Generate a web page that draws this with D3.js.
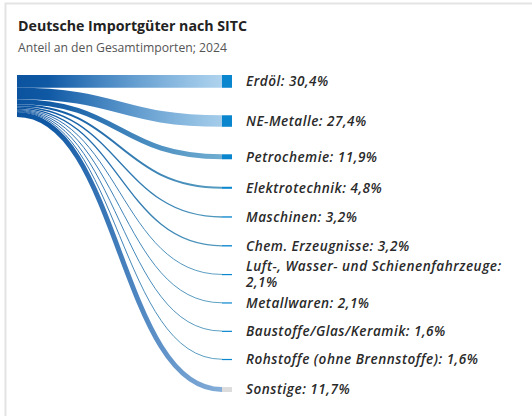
<!DOCTYPE html>
<html>
<head>
<meta charset="utf-8">
<script src="https://cdn.jsdelivr.net/npm/d3@7"></script>
<style>
  html, body { margin: 0; padding: 0; background: #fff; }
  svg { display: block; font-family: "Open Sans", "Noto Sans", sans-serif; }
  .title { font-size: 14.2px; font-weight: 700; fill: #222; }
  .subtitle { font-size: 12.2px; fill: #555; }
  .label { font-size: 13.6px; font-style: italic; font-weight: 600; fill: #2a2a2a; letter-spacing: 0.5px; }
</style>
</head>
<body>
<div id="chart"></div>
<script>
const categories = [
  "Erdöl", "NE-Metalle", "Petrochemie", "Elektrotechnik", "Maschinen",
  "Chem. Erzeugnisse", "Luft-, Wasser- und Schienenfahrzeuge", "Metallwaren",
  "Baustoffe/Glas/Keramik", "Rohstoffe (ohne Brennstoffe)", "Sonstige"
];
const shares = [30.4, 27.4, 11.9, 4.8, 3.2, 3.2, 2.1, 2.1, 1.6, 1.6, 11.7];
const valueLabels = ["30,4%", "27,4%", "11,9%", "4,8%", "3,2%", "3,2%", "2,1%", "2,1%", "1,6%", "1,6%", "11,7%"];

const width = 532, height = 416;
const srcX = 17, tgtX = 222, nodeW = 10, labelX = 246;
const yTop = 75, yBottom = 392, nodePad = 27.5;

const svg = d3.select("#chart").append("svg")
  .attr("width", width)
  .attr("height", height);

// frame
svg.append("path")
  .attr("d", "M5.5," + height + "V3.5H" + width)
  .attr("fill", "none")
  .attr("stroke", "#e3e3e3")
  .attr("stroke-width", 2);

svg.append("text").attr("class", "title").attr("x", 18).attr("y", 31)
  .text("Deutsche Importgüter nach SITC");
svg.append("text").attr("class", "subtitle").attr("x", 18).attr("y", 52)
  .text("Anteil an den Gesamtimporten; 2024");

// simple sankey layout: one source, stacked targets
const total = d3.sum(shares);
const n = shares.length;
const k = (yBottom - yTop - nodePad * (n - 1)) / total;
const h = d3.scaleLinear().domain([0, total]).range([0, k * total]);

const cum = [0].concat(Array.from(d3.cumsum(shares)));
const nodes = categories.map((c, i) => {
  const hh = h(shares[i]);
  const ty = yTop + h(cum[i]) + i * nodePad;
  return {
    name: c,
    value: shares[i],
    label: valueLabels[i],
    h: hh,
    sy: yTop + h(cum[i]) + hh / 2,
    ty: ty,
    tc: ty + hh / 2,
    other: c === "Sonstige"
  };
});

const defs = svg.append("defs");
const endOpacity = d3.scaleLinear().domain([1, 13]).range([0.85, 0.4]).clamp(true);
const endColor = d3.scaleLinear().domain([1, 13]).range(["#2f86b0", "#3b93d6"]).clamp(true);

nodes.forEach((d, i) => {
  const g = defs.append("linearGradient")
    .attr("id", "grad" + i)
    .attr("gradientUnits", "userSpaceOnUse")
    .attr("x1", srcX).attr("x2", tgtX)
    .attr("y1", 0).attr("y2", 0);
  g.append("stop").attr("offset", 0).attr("stop-color", "#0b539f");
  g.append("stop").attr("offset", 0.15).attr("stop-color", "#0f58a4");
  g.append("stop").attr("offset", 1)
    .attr("stop-color", d.other ? "#6f9fd2" : endColor(d.h))
    .attr("stop-opacity", d.other ? 0.85 : endOpacity(d.h));
});

const link = d3.linkHorizontal();

svg.append("g")
  .selectAll("path")
  .data(nodes.slice().reverse())
  .join("path")
  .attr("d", d => link({ source: [srcX, d.sy], target: [tgtX, d.tc] }))
  .attr("fill", "none")
  .attr("stroke", d => "url(#grad" + nodes.indexOf(d) + ")")
  .attr("stroke-width", d => Math.max(0.9, d.h));

svg.append("g")
  .selectAll("rect")
  .data(nodes)
  .join("rect")
  .attr("x", tgtX)
  .attr("y", d => d.ty)
  .attr("width", nodeW)
  .attr("height", d => Math.max(1.2, d.h))
  .attr("fill", d => d.other ? "#dcdcdc" : "#0a86cf");

// labels, wrapped when too long
const maxW = width - labelX - 6;
const lineH = 15.5;
const labels = svg.append("g")
  .selectAll("text")
  .data(nodes)
  .join("text")
  .attr("class", "label")
  .attr("x", labelX);

labels.each(function (d) {
  const t = d3.select(this);
  const full = d.name + ": " + d.label;
  t.text(full);
  let lines = [full];
  if (this.getComputedTextLength() > maxW) {
    lines = [d.name + ":", d.label];
  }
  t.text(null);
  const y0 = d.tc - ((lines.length - 1) * lineH) / 2;
  lines.forEach((s, j) => {
    t.append("tspan")
      .attr("x", labelX)
      .attr("y", y0 + j * lineH)
      .attr("dy", "0.35em")
      .text(s);
  });
});
</script>
</body>
</html>
